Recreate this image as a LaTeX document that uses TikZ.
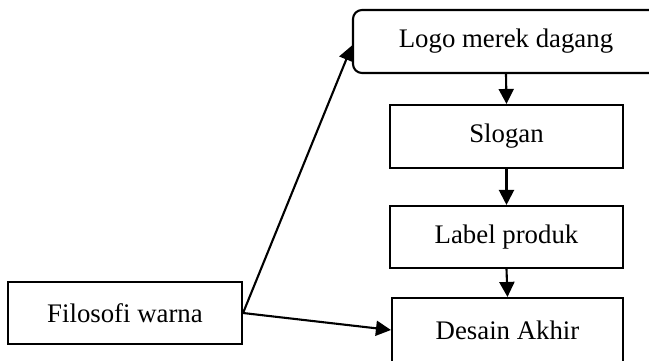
\documentclass[tikz,border=0pt]{standalone}
\usepackage{fontspec}
\setmainfont{Liberation Serif}
\usetikzlibrary{arrows.meta}
\begin{document}
\begin{tikzpicture}[x=1pt,y=-1pt,
  box/.style={draw,line width=2.1pt,inner sep=0pt,align=center,font=\fontsize{26.8}{30}\selectfont},
  arr/.style={line width=2.1pt,-{Triangle[width=15pt,length=15pt]}}]
\useasboundingbox (0,0) rectangle (649,360);
\clip (0,0) rectangle (649,360);
\node[box,rounded corners=9pt,minimum width=306pt,minimum height=63pt] (logo) at (506,41.5) {Logo merek dagang};
\node[box,minimum width=233pt,minimum height=63pt] (slogan) at (506.5,136.5) {Slogan};
\node[box,minimum width=233pt,minimum height=62pt] (label) at (506.5,237) {Label produk};
\node[box,minimum width=231pt,minimum height=64pt] (desain) at (507.5,330) {Desain Akhir};
\node[box,minimum width=234pt,minimum height=62pt] (filo) at (125,313) {Filosofi warna};
\draw[arr] (logo.south) -- (slogan.north);
\draw[arr] (slogan.south) -- (label.north);
\draw[arr] (label.south) -- (desain.north);
\draw[arr] (filo.east) -- ([yshift=-4pt]logo.west);
\draw[arr] (filo.east) -- (desain.west);
\end{tikzpicture}
\end{document}
